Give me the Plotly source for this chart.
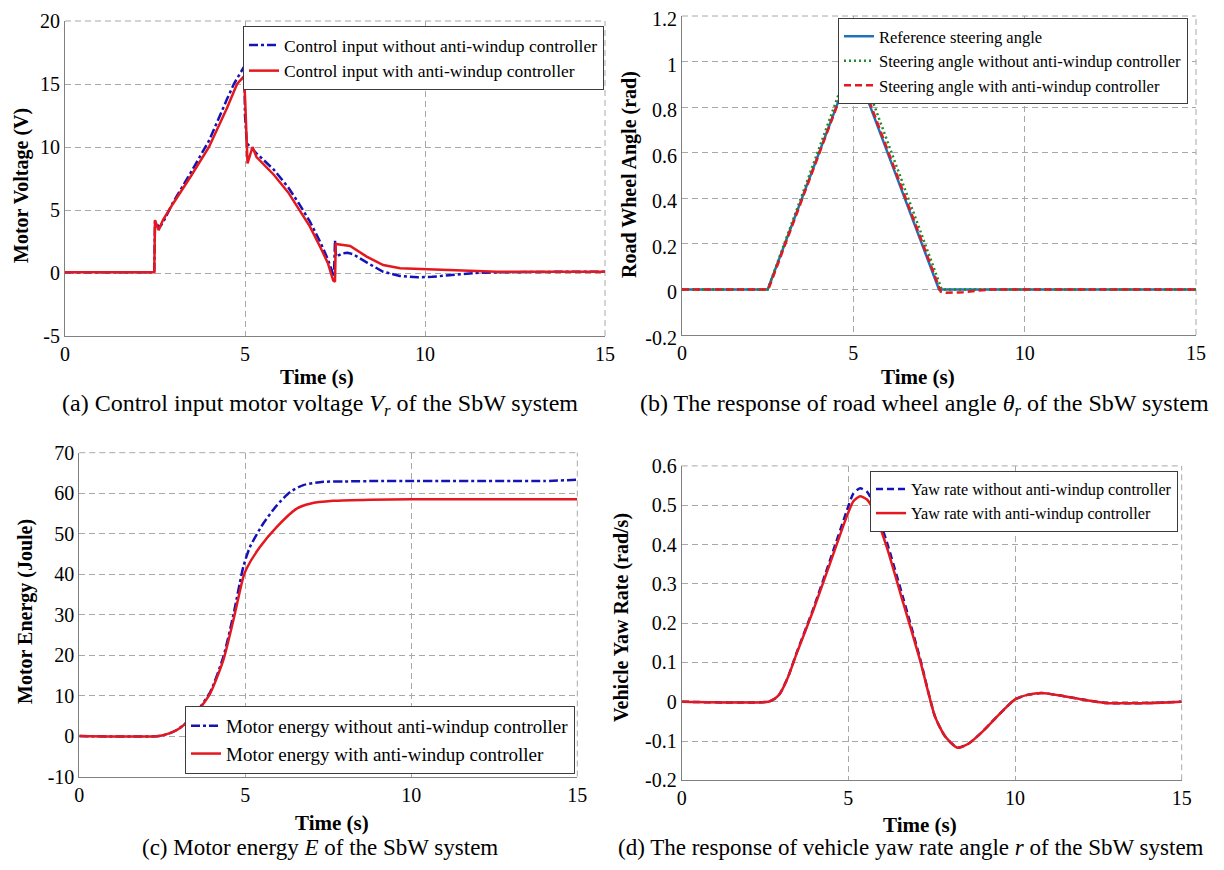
import plotly.graph_objects as go

# ---------------- data ----------------
# (a) control input motor voltage
t_a_without = [0, 2.48, 2.5, 2.55, 2.62, 2.72, 3.0, 3.5, 4.0, 4.5, 4.69, 4.98, 5.0, 5.05, 5.32, 5.8, 6.2, 6.5, 6.8,
               7.1, 7.3, 7.47, 7.5, 7.53, 7.7, 7.85, 8.0, 8.4, 8.84, 9.3, 9.8, 10.2, 11.0, 11.5, 12, 13, 14, 15]
v_a_without = [0.05, 0.05, 4.1, 3.9, 3.6, 4.0, 5.6, 8.0, 10.5, 13.8, 15.0, 16.4, 12.5, 10.3, 9.5, 8.2, 6.8, 5.5, 4.1,
               2.4, 1.1, -0.3, 2.6, 1.3, 1.55, 1.6, 1.5, 0.8, 0.1, -0.24, -0.34, -0.3, -0.08, 0.02, 0.05, 0.1, 0.1, 0.1]
t_a_with = [0, 2.48, 2.5, 2.6, 2.72, 3.0, 3.5, 4.0, 4.5, 4.78, 4.97, 5.0, 5.07, 5.21, 5.32, 5.8, 6.2, 6.5, 6.8,
            7.1, 7.3, 7.45, 7.5, 7.52, 7.7, 7.92, 8.38, 8.84, 9.31, 10.0, 11.0, 12, 13, 14, 15]
v_a_with = [0.05, 0.05, 4.2, 3.4, 4.2, 5.5, 7.7, 10.0, 13.1, 15.0, 15.6, 14.0, 8.7, 10.0, 9.2, 7.8, 6.4, 5.1, 3.7,
            2.0, 0.8, -0.6, -0.7, 2.3, 2.25, 2.14, 1.3, 0.63, 0.37, 0.29, 0.16, 0.1, 0.1, 0.1, 0.1]
y_a_ticks = [-5, 0, 5, 10, 15, 20]
y_a_labels = ["-5", "0", "5", "10", "15", "20"]

# (b) road wheel angle
t_b_ref = [0, 2.5, 5.0, 7.5, 15]
v_b_ref = [0, 0, 1.0, 0, 0]
t_b_without = [0, 2.5, 5.03, 7.58, 8.0, 15]
v_b_without = [0, 0, 1.045, 0, 0, 0]
t_b_with = [0, 2.52, 5.02, 7.55, 7.7, 8.2, 9.0, 15]
v_b_with = [0, 0, 1.005, -0.01, -0.015, -0.012, 0, 0]
y_b_ticks = [-0.2, 0, 0.2, 0.4, 0.6, 0.8, 1.0, 1.2]
y_b_labels = ["-0.2", "0", "0.2", "0.4", "0.6", "0.8", "1", "1.2"]

# (c) motor energy
t_c_without = [0, 2.4, 2.73, 3.0, 3.43, 3.94, 4.34, 4.64, 4.94, 5.14, 5.54, 5.95, 6.35, 6.75, 7.35, 8, 9, 10,
               11, 12, 13, 14, 15]
v_c_without = [0, 0, 0.7, 1.8, 4.9, 10.8, 19.6, 29.9, 41.8, 46.7, 52.5, 57.0, 60.3, 62.0, 62.8, 62.9, 63.0, 63.0,
               63.0, 63.0, 63.0, 63.0, 63.3]
t_c_with = [0, 2.4, 2.73, 3.0, 3.43, 3.94, 4.34, 4.64, 4.94, 5.04, 5.44, 5.95, 6.55, 6.95, 7.65, 8.76, 10, 12, 15]
v_c_with = [0, 0, 0.7, 1.8, 4.8, 10.5, 18.8, 28.6, 39.3, 41.4, 46.7, 51.7, 56.2, 57.4, 58.1, 58.4, 58.5, 58.5, 58.5]
y_c_ticks = [-10, 0, 10, 20, 30, 40, 50, 60, 70]
y_c_labels = ["-10", "0", "10", "20", "30", "40", "50", "60", "70"]

# (d) vehicle yaw rate
t_d_without = [0, 2.6, 2.8, 2.95, 3.2, 3.45, 3.95, 4.45, 4.95, 5.15, 5.35, 5.55, 5.75, 6.15, 6.65, 7.15, 7.6,
               7.9, 8.27, 8.6, 9.0, 9.4, 9.75, 10.0, 10.4, 10.8, 11.4, 12.0, 12.7, 13.5, 14.2, 15]
v_d_without = [0, 0, 0.008, 0.021, 0.065, 0.125, 0.237, 0.36, 0.485, 0.530, 0.543, 0.535, 0.505, 0.407, 0.262,
               0.11, -0.038, -0.088, -0.117, -0.107, -0.078, -0.043, -0.013, 0.006, 0.018, 0.022, 0.015, 0.006,
               -0.003, -0.004, -0.003, 0]
t_d_with = [0, 2.6, 2.8, 2.95, 3.2, 3.45, 3.95, 4.45, 4.95, 5.15, 5.35, 5.55, 5.75, 6.15, 6.65, 7.15, 7.6,
            7.9, 8.27, 8.6, 9.0, 9.4, 9.75, 10.0, 10.4, 10.8, 11.4, 12.0, 12.7, 13.5, 14.2, 15]
v_d_with = [0, 0, 0.008, 0.021, 0.065, 0.123, 0.233, 0.352, 0.471, 0.510, 0.523, 0.515, 0.488, 0.394, 0.25,
            0.106, -0.038, -0.088, -0.117, -0.107, -0.078, -0.043, -0.013, 0.006, 0.018, 0.022, 0.015, 0.006,
            -0.003, -0.004, -0.003, 0]
y_d_ticks = [-0.2, -0.1, 0, 0.1, 0.2, 0.3, 0.4, 0.5, 0.6]
y_d_labels = ["-0.2", "-0.1", "0", "0.1", "0.2", "0.3", "0.4", "0.5", "0.6"]

x_ticks = [0, 5, 10, 15]
x_labels = ["0", "5", "10", "15"]

# ---------------- style ----------------
FONT = "Liberation Serif, Times New Roman, serif"
BLUE = "#1414B4"
RED = "#E4181E"
GREEN = "#1E8C28"
MBLUE = "#1F72B8"
DASHDOT = "9px,3px,3px,3px"
DASH = "7px,4px"
DOT = "2px,3px"
GRIDDASH = "6px,4px"
GRIDCOLOR = "#A8A8A8"

fig = go.Figure()

def add(x, y, name, color, dash, xa, ya, legend, shape="linear", width=2.5):
    line = dict(color=color, dash=dash, width=width, shape=shape)
    if shape == "spline":
        line["smoothing"] = 0.6
    fig.add_trace(go.Scatter(x=x, y=y, name=name, mode="lines", line=line,
                             xaxis=xa, yaxis=ya, legend=legend))

add(t_a_without, v_a_without, "Control input without anti-windup controller", BLUE, DASHDOT, "x", "y", "legend")
add(t_a_with, v_a_with, "Control input with anti-windup controller", RED, "solid", "x", "y", "legend")

add(t_b_ref, v_b_ref, "Reference steering angle", MBLUE, "solid", "x2", "y2", "legend2")
add(t_b_without, v_b_without, "Steering angle without anti-windup controller", GREEN, DOT, "x2", "y2", "legend2")
add(t_b_with, v_b_with, "Steering angle with anti-windup controller", RED, DASH, "x2", "y2", "legend2")

add(t_c_without, v_c_without, "Motor energy without anti-windup controller", BLUE, DASHDOT, "x3", "y3", "legend3", "spline")
add(t_c_with, v_c_with, "Motor energy with anti-windup controller", RED, "solid", "x3", "y3", "legend3", "spline")

add(t_d_without, v_d_without, "Yaw rate without anti-windup controller", BLUE, DASH, "x4", "y4", "legend4", "spline")
add(t_d_with, v_d_with, "Yaw rate with anti-windup controller", RED, "solid", "x4", "y4", "legend4", "spline")

# page is 1224x870; the HTML body adds an 8px margin around the figure div
OFF = 8
W, H = 1224 - 2 * OFF, 870 - 2 * OFF

def px_x(p):
    return (p - OFF) / W

def px_y(p):
    return 1 - (p - OFF) / H

def xd(a, b):
    return [px_x(a), px_x(b)]

def yd(bottom_px, top_px):
    return [px_y(bottom_px), px_y(top_px)]

common = dict(showline=True, linecolor="#808080", linewidth=1, showgrid=True, gridcolor=GRIDCOLOR,
              griddash=GRIDDASH, gridwidth=1, zeroline=False, ticks="", tickmode="array",
              automargin=False, ticklabeloverflow="allow",
              tickfont=dict(family=FONT, size=20, color="black"))

def xaxis(dom, anchor):
    return dict(domain=dom, anchor=anchor, range=[0, 15], tickvals=x_ticks, ticktext=x_labels, **common)

def yaxis(dom, anchor, vals, labels, shift=0):
    return dict(domain=dom, anchor=anchor, range=[vals[0], vals[-1]], tickvals=vals, ticktext=labels,
                ticklabelshift=shift, **common)

def legend_cfg(x, y, yanchor, size):
    return dict(x=px_x(x), y=px_y(y), xanchor="right", yanchor=yanchor,
                bgcolor="white", bordercolor="#3C3C3C", borderwidth=1,
                font=dict(family=FONT, color="black", size=size), tracegroupgap=0, itemwidth=30)

fig.update_layout(
    width=W, height=H, margin=dict(l=0, r=0, t=0, b=0, autoexpand=False),
    paper_bgcolor="white", plot_bgcolor="white",
    font=dict(family=FONT, color="black"),
    xaxis=xaxis(xd(65, 605), "y"),
    yaxis=yaxis(yd(336, 21), "x", y_a_ticks, y_a_labels),
    xaxis2=xaxis(xd(682, 1196), "y2"),
    yaxis2=yaxis(yd(335, 16), "x2", y_b_ticks, y_b_labels, 3),
    xaxis3=xaxis(xd(79.3, 577.3), "y3"),
    yaxis3=yaxis(yd(776.5, 452.7), "x3", y_c_ticks, y_c_labels),
    xaxis4=xaxis(xd(681.7, 1181.7), "y4"),
    yaxis4=yaxis(yd(780.3, 465.9), "x4", y_d_ticks, y_d_labels),
    legend=legend_cfg(604, 26, "top", 17.5),
    legend2=legend_cfg(1188, 18, "top", 16.5),
    legend3=legend_cfg(575, 774, "bottom", 19),
    legend4=legend_cfg(1178, 471, "top", 16.2),
    showlegend=True,
)

# dashed box edges on top and right (MATLAB-like box)
for xa, ya in [("x", "y"), ("x2", "y2"), ("x3", "y3"), ("x4", "y4")]:
    fig.add_shape(type="line", xref=xa + " domain", yref=ya + " domain", x0=0, x1=1, y0=1, y1=1,
                  line=dict(color=GRIDCOLOR, width=1, dash=GRIDDASH), layer="below")
    fig.add_shape(type="line", xref=xa + " domain", yref=ya + " domain", x0=1, x1=1, y0=0, y1=1,
                  line=dict(color=GRIDCOLOR, width=1, dash=GRIDDASH), layer="below")

def ann(text, px, py, size, bold=False, angle=0):
    if bold:
        text = "<b>" + text + "</b>"
    fig.add_annotation(text=text, x=px_x(px), y=px_y(py), xref="paper", yref="paper",
                       xanchor="center", yanchor="middle", showarrow=False, textangle=angle,
                       font=dict(family=FONT, size=size, color="black"))

# axis titles
ann("Motor Voltage (V)", 21, 186, 20, True, -90)
ann("Time (s)", 317, 377, 21, True)
ann("Road Wheel Angle (rad)", 629, 175, 20, True, -90)
ann("Time (s)", 918, 377, 21, True)
ann("Motor Energy (Joule)", 25, 612, 20, True, -90)
ann("Time (s)", 332, 823, 21, True)
ann("Vehicle Yaw Rate (rad/s)", 621, 618, 20, True, -90)
ann("Time (s)", 920, 825, 21, True)

# captions
ann("(a) Control input motor voltage <i>V</i><sub><i>r</i></sub> of the SbW system", 320, 405, 24)
ann("(b) The response of road wheel angle <i>θ</i><sub><i>r</i></sub> of the SbW system", 924, 405, 24)
ann("(c) Motor energy <i>E</i> of the SbW system", 320, 847, 23)
ann("(d) The response of vehicle yaw rate angle <i>r</i> of the SbW system", 911, 847, 23)

fig.write_html("out.html")
